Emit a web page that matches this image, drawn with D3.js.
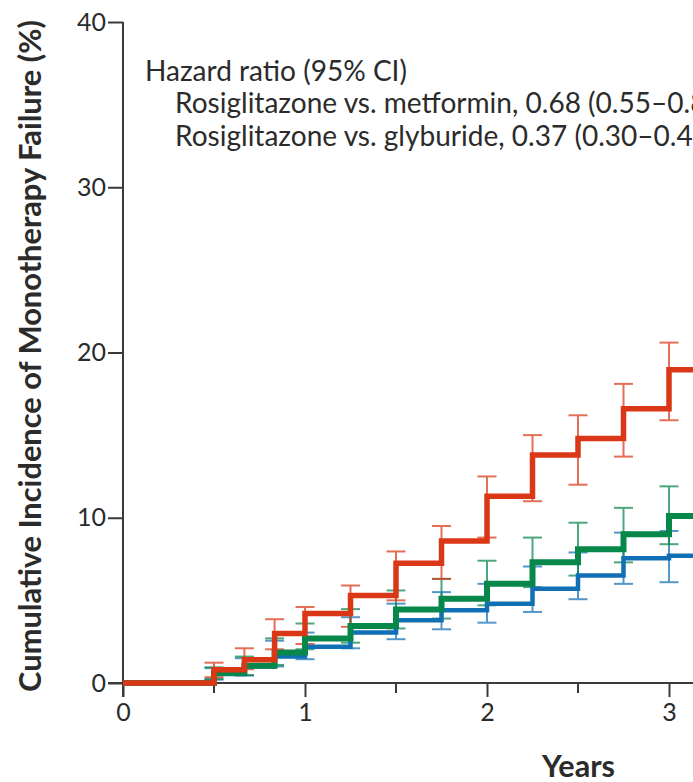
<!DOCTYPE html>
<html>
<head>
<meta charset="utf-8">
<script src="https://cdn.jsdelivr.net/npm/d3@7"></script>
<style>
html,body{margin:0;padding:0;background:#fff;overflow:hidden;}
svg{display:block;}
text{font-family:Lato,"Open Sans",sans-serif;fill:#2b2b2b;}
</style>
</head>
<body>
<svg id="chart" width="693" height="782"></svg>
<script>
// ---- data ----
const times = [0, 0.5, 0.667, 0.833, 1.0, 1.25, 1.5, 1.75, 2.0, 2.25, 2.5, 2.75, 3.0];
const glyburide     = [0, 0.8, 1.4, 3.0, 4.2, 5.3, 7.25, 8.6, 11.3, 13.8, 14.8, 16.6, 18.95];
const metformin     = [0, 0.6, 1.05, 1.85, 2.7, 3.45, 4.45, 5.1, 6.0, 7.3, 8.1, 9.0, 10.1];
const rosiglitazone = [0, 0.55, 1.0, 1.6, 2.2, 3.05, 3.8, 4.4, 4.8, 5.7, 6.5, 7.55, 7.7];

const glyburideLow  = [null, 0.35, 0.83, 2.04, 2.36, 3.4, 5.0, 6.3, 8.8, 11.0, 12.0, 13.7, 15.9];
const glyburideHigh = [null, 1.23, 2.1, 3.86, 4.6, 5.9, 7.96, 9.5, 12.5, 15.0, 16.2, 18.1, 20.6];
const metforminLow  = [null, 0.25, 0.48, 1.09, 2.04, 2.44, 3.3, 3.9, 4.7, 5.8, 6.5, 7.3, 8.4];
const metforminHigh = [null, 0.95, 1.6, 2.7, 3.6, 4.47, 5.6, 6.3, 7.4, 8.8, 9.7, 10.6, 11.9];
const rosiLow  = [null, 0.2, 0.45, 1.0, 1.44, 2.1, 2.65, 3.25, 3.65, 4.3, 5.07, 6.0, 6.1];
const rosiHigh = [null, 0.9, 1.5, 2.56, 3.05, 3.98, 4.8, 5.5, 6.0, 7.05, 7.9, 9.1, 9.2];

const yTicks = [0, 10, 20, 30, 40];
const xMajorTicks = [0, 1, 2, 3];
const xMinorTicks = [0.5, 1.5, 2.5];

const yTitle = "Cumulative Incidence of Monotherapy Failure (%)";
const xTitle = "Years";
const hrTitle = "Hazard ratio (95% CI)";
const hrLines = ["Rosiglitazone vs. metformin, 0.68 (0.55–0.85)",
                 "Rosiglitazone vs. glyburide, 0.37 (0.30–0.45)"];

// ---- layout ----
const svg = d3.select("#chart");
const x = d3.scaleLinear().domain([0, 3]).range([123, 669]);
const y = d3.scaleLinear().domain([0, 40]).range([683, 22]);
const axisColor = "#3a3a3a";

const series = [
  {vals: rosiglitazone, lo: rosiLow, hi: rosiHigh, color: "#1170b5", w: 4.5},
  {vals: metformin, lo: metforminLow, hi: metforminHigh, color: "#08874a", w: 6},
  {vals: glyburide, lo: glyburideLow, hi: glyburideHigh, color: "#da3716", w: 5.5}
];

// axes
const yAxis = d3.axisLeft(y).tickValues(yTicks).tickSize(15).tickPadding(2).tickFormat(d3.format("d"));
const gy = svg.append("g").attr("transform", `translate(${x(0)},0)`).call(yAxis);
gy.select(".domain").remove();
gy.append("line").attr("x1",0).attr("x2",0).attr("y1",y(40)).attr("y2",y(0)+14)
  .attr("stroke",axisColor).attr("stroke-width",2);
gy.selectAll(".tick line").attr("stroke",axisColor).attr("stroke-width",2);
gy.selectAll(".tick text").style("font-size","25px").attr("fill","#333");

const xAxis = d3.axisBottom(x).tickValues(xMajorTicks).tickSize(14).tickPadding(6).tickFormat(d3.format("d"));
const gx = svg.append("g").attr("transform", `translate(0,${y(0)})`).call(xAxis);
gx.select(".domain").remove();
gx.append("line").attr("x1",x(0)-15).attr("x2",700).attr("y1",0).attr("y2",0)
  .attr("stroke",axisColor).attr("stroke-width",2);
gx.selectAll(".tick line").attr("stroke",axisColor).attr("stroke-width",2);
gx.selectAll(".tick text").style("font-size","25px").attr("fill","#333");
gx.selectAll(".minor").data(xMinorTicks).enter().append("line")
  .attr("x1",d=>x(d)).attr("x2",d=>x(d)).attr("y1",0).attr("y2",10)
  .attr("stroke",axisColor).attr("stroke-width",2);

// error bars
const capW = 19;
series.forEach(s => {
  const g = svg.append("g").attr("stroke", s.color).attr("stroke-width", 2).attr("opacity", 0.72);
  times.forEach((t, i) => {
    if (s.lo[i] == null) return;
    const cx = x(t);
    g.append("line").attr("x1",cx).attr("x2",cx).attr("y1",y(s.lo[i])).attr("y2",y(s.hi[i]));
    g.append("line").attr("x1",cx-capW/2).attr("x2",cx+capW/2).attr("y1",y(s.lo[i])).attr("y2",y(s.lo[i]));
    g.append("line").attr("x1",cx-capW/2).attr("x2",cx+capW/2).attr("y1",y(s.hi[i])).attr("y2",y(s.hi[i]));
  });
});

// step lines
series.forEach(s => {
  const pts = times.map((t,i)=>[t, s.vals[i]]);
  pts.push([3.3, s.vals[s.vals.length-1]]);
  const line = d3.line().x(d=>x(d[0])).y(d=>y(d[1])).curve(d3.curveStepAfter);
  svg.append("path").attr("d", line(pts)).attr("fill","none")
    .attr("stroke", s.color).attr("stroke-width", s.w).attr("stroke-linejoin","miter");
});

// helper: fit text to a target width
function fit(sel, targetW){
  const w = sel.node().getComputedTextLength();
  const fs = parseFloat(sel.style("font-size"));
  sel.style("font-size", (fs*targetW/w).toFixed(2)+"px");
}

// y title
const yt = svg.append("text").attr("transform","translate(41,356) rotate(-90)")
  .attr("text-anchor","middle").style("font-size","26px").style("font-weight","bold")
  .attr("fill","#222").text(yTitle);
fit(yt, 672);

// x title
svg.append("text").attr("x",542).attr("y",777)
  .style("font-size","30px").style("font-weight","bold").attr("fill","#222")
  .attr("textLength",73).attr("lengthAdjust","spacingAndGlyphs").text(xTitle);

// hazard ratio annotation
const h0 = svg.append("text").attr("x",145).attr("y",81).style("font-size","22px").attr("fill","#333").text(hrTitle);
fit(h0, 262);
const fsAnn = parseFloat(h0.style("font-size"));
hrLines.forEach((t,i)=>{
  svg.append("text").attr("x",175).attr("y",113+i*32.5).style("font-size",fsAnn+"px").attr("fill","#333").text(t);
});
</script>
</body>
</html>
